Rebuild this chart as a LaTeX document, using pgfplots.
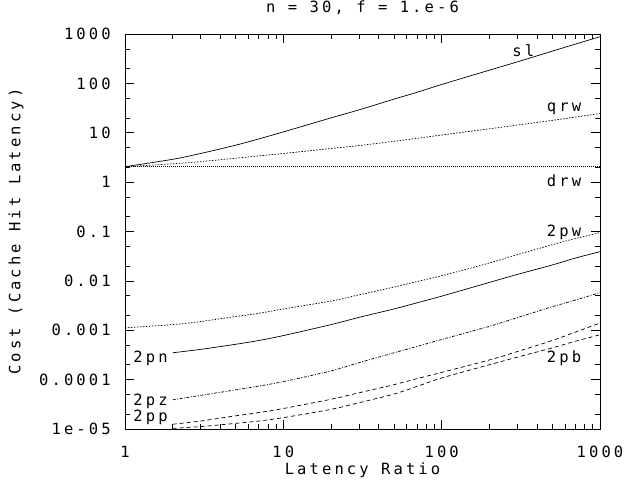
\documentclass[border=0pt]{standalone}
\usepackage{fontspec}
\setmainfont{DejaVu Sans Mono}[LetterSpace=20]
\usepackage{pgfplots}
\pgfplotsset{compat=1.18}
\begin{document}
\fontsize{15.5bp}{18bp}\selectfont
\begin{tikzpicture}
\begin{axis}[
  at={(0,0)}, anchor=south west,
  scale only axis, width=475bp, height=395bp,
  xmode=log, ymode=log,
  xmin=1, xmax=1000, ymin=1e-5, ymax=1000,
  xtick={1,10,100,1000}, xticklabels={1,10,100,1000},
  ytick={1e-5,1e-4,0.001,0.01,0.1,1,10,100,1000},
  yticklabels={1e-05,0.0001,0.001,0.01,0.1,1,10,100,1000},
  minor ytick={2e-5,5e-5,2e-4,5e-4,0.002,0.005,0.02,0.05,0.2,0.5,2,5,20,50,200,500},
  tick align=inside,
  major tick length=9bp, minor tick length=5bp,
  every tick/.style={black, line width=0.7bp},
  axis line style={line width=0.8bp},
  xticklabel shift=12bp,
  yticklabel shift=9bp,
  title={n = 30, f = 1.e-6},
  title style={at={(axis description cs:0.5,1.039)}, anchor=base},
  xlabel={Latency Ratio},
  xlabel style={at={(axis description cs:0.5,-0.114)}, anchor=base},
  ylabel={Cost (Cache Hit Latency)},
  ylabel style={at={(axis description cs:-0.229,0.5)}, anchor=center},
]
\addplot[black, solid, line width=0.7bp, smooth] coordinates {(1,2.05)(2,2.9)(3,3.8)(5,5.6)(7,7.5)(10,10.4)(20,20)(30,29)(50,48)(70,66)(100,95)(200,185)(300,272)(500,450)(700,625)(1000,880)};
\addplot[black, line width=0.7bp, smooth, dash pattern=on 1.5bp off 1.5bp] coordinates {(1,2.05)(2,2.35)(3,2.6)(5,3.05)(7,3.4)(10,3.8)(20,4.8)(30,5.5)(50,6.7)(70,7.7)(100,9.0)(200,12)(300,14.3)(500,17.8)(700,20.8)(1000,24.5)};
\addplot[black, line width=0.7bp, dash pattern=on 1bp off 1bp] coordinates {(1,2.1)(1000,2.1)};
\addplot[black, line width=0.7bp, smooth, dash pattern=on 1.5bp off 1.5bp] coordinates {(1,0.00112)(2,0.0013)(3,0.0015)(5,0.0019)(7,0.0022)(10,0.0027)(20,0.0039)(30,0.0052)(50,0.0075)(70,0.0097)(100,0.0127)(200,0.023)(300,0.034)(500,0.054)(700,0.072)(1000,0.095)};
\addplot[black, solid, line width=0.7bp, smooth] coordinates {(2,0.00035)(3,0.00041)(5,0.00052)(7,0.00062)(10,0.00078)(20,0.0013)(30,0.00182)(50,0.0027)(70,0.0036)(100,0.0049)(200,0.0093)(300,0.0135)(500,0.021)(700,0.029)(1000,0.039)};
\addplot[black, line width=0.7bp, smooth, dash pattern=on 3bp off 1.5bp on 1bp off 1.5bp] coordinates {(2,3.9e-5)(3,4.8e-5)(5,6.2e-5)(7,7.4e-5)(10,9.1e-5)(20,1.5e-4)(30,2.2e-4)(50,3.5e-4)(70,4.7e-4)(100,6.5e-4)(200,1.2e-3)(300,1.8e-3)(500,3.0e-3)(700,4.1e-3)(1000,5.8e-3)};
\addplot[black, line width=0.7bp, smooth, dash pattern=on 4bp off 3bp] coordinates {(2,1.25e-5)(3,1.45e-5)(5,1.85e-5)(7,2.15e-5)(10,2.6e-5)(20,4.0e-5)(30,5.4e-5)(50,7.9e-5)(70,1.05e-4)(100,1.4e-4)(200,2.5e-4)(300,3.7e-4)(500,6.2e-4)(700,9.2e-4)(1000,1.4e-3)};
\addplot[black, line width=0.7bp, smooth, dash pattern=on 4bp off 3bp] coordinates {(2,1.03e-5)(3,1.12e-5)(5,1.3e-5)(7,1.45e-5)(10,1.7e-5)(20,2.5e-5)(30,3.4e-5)(50,5.1e-5)(70,7.3e-5)(100,1.08e-4)(200,2.0e-4)(300,2.85e-4)(500,4.4e-4)(700,6.0e-4)(1000,8.1e-4)};
\node[anchor=base west, inner sep=0pt] at (axis cs:278.6,347) {sl};
\node[anchor=base west, inner sep=0pt] at (axis cs:461,26.7) {qrw};
\node[anchor=base west, inner sep=0pt] at (axis cs:461,0.811) {drw};
\node[anchor=base west, inner sep=0pt] at (axis cs:461,0.0789) {2pw};
\node[anchor=base west, inner sep=0pt] at (axis cs:1.128,2.22e-4) {2pn};
\node[anchor=base west, inner sep=0pt] at (axis cs:1.128,2.95e-5) {2pz};
\node[anchor=base west, inner sep=0pt] at (axis cs:1.128,1.42e-5) {2pp};
\node[anchor=base west, inner sep=0pt] at (axis cs:461,2.22e-4) {2pb};
\end{axis}
\pgfresetboundingbox
\path[use as bounding box] (-125bp,-55bp) rectangle (499bp,429bp);
\end{tikzpicture}
\end{document}
